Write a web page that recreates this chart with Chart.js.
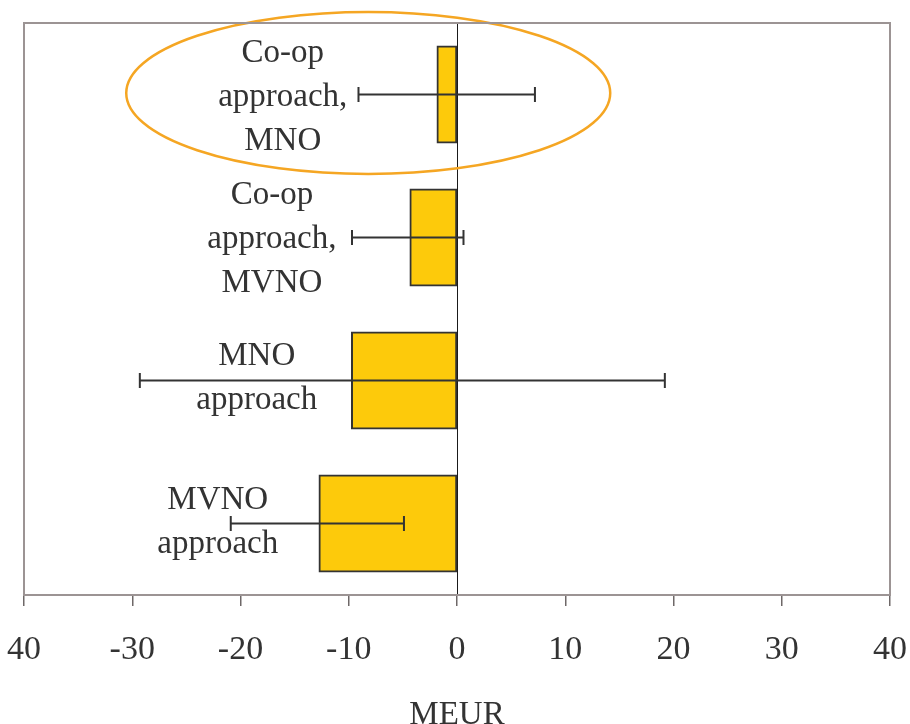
<!DOCTYPE html>
<html>
<head>
<meta charset="utf-8">
<script src="https://cdn.jsdelivr.net/npm/chart.js@4.4.1/dist/chart.umd.min.js"></script>
<style>
  html, body { margin: 0; padding: 0; background: #ffffff; }
  #wrap { width: 910px; height: 724px; position: relative; }
</style>
</head>
<body>
<div id="wrap"><canvas id="chart" width="910" height="724"></canvas></div>
<script>
// Scenario categories (top to bottom), each label split into lines
const categories = [
  ["Co-op", "approach,", "MNO"],
  ["Co-op", "approach,", "MVNO"],
  ["MNO", "approach"],
  ["MVNO", "approach"]
];
// Expected value per scenario, MEUR
const expectedValue = [-1.8, -4.3, -9.7, -12.7];
// Low / high ends of the uncertainty range, MEUR
const rangeLow  = [-9.1, -9.7, -29.3, -20.9];
const rangeHigh = [7.2, 0.6, 19.2, -4.9];
// Axis tick values and their printed labels
const tickValues = [-40, -30, -20, -10, 0, 10, 20, 30, 40];
const tickLabels = ["40", "-30", "-20", "-10", "0", "10", "20", "30", "40"];

const SERIF = "'Liberation Serif', 'Times New Roman', serif";
const INK = '#333333';
const FRAME = '#9c9494';

// Frame around the plot, zero line, error bars, in-plot labels, highlight ellipse
const decorations = {
  id: 'decorations',
  afterDatasetsDraw(chart, args, opts) {
    const { ctx, chartArea: a, scales: { x, y } } = chart;
    const meta = chart.getDatasetMeta(0);
    ctx.save();

    // zero reference line, pixel-snapped, running over the bar ends
    const x0 = Math.floor(x.getPixelForValue(0)) + 0.5;
    ctx.strokeStyle = '#1a1a1a';
    ctx.lineWidth = 1;
    ctx.beginPath();
    ctx.moveTo(x0, a.top);
    ctx.lineTo(x0, a.bottom);
    ctx.stroke();

    // error bars
    ctx.strokeStyle = INK;
    ctx.lineWidth = 2;
    meta.data.forEach((bar, i) => {
      const yc = bar.y;
      const xl = x.getPixelForValue(rangeLow[i]);
      const xh = x.getPixelForValue(rangeHigh[i]);
      ctx.beginPath();
      ctx.moveTo(xl, yc); ctx.lineTo(xh, yc);
      ctx.moveTo(xl, yc - 7.5); ctx.lineTo(xl, yc + 7.5);
      ctx.moveTo(xh, yc - 7.5); ctx.lineTo(xh, yc + 7.5);
      ctx.stroke();
    });

    // category labels inside the plot
    ctx.fillStyle = INK;
    ctx.font = '33px ' + SERIF;
    ctx.textAlign = 'center';
    ctx.textBaseline = 'middle';
    const lineGap = 44;
    categories.forEach((lines, i) => {
      const cx = x.getPixelForValue(opts.labelAt[i]);
      const cy = y.getPixelForValue(i) + opts.labelShift[i];
      const start = cy - (lines.length - 1) * lineGap / 2;
      lines.forEach((t, k) => ctx.fillText(t, cx, start + k * lineGap));
    });

    // highlight ellipse around the first scenario
    const ex = x.getPixelForValue(opts.ellipse.centerValue);
    const ey = y.getPixelForValue(0) + opts.ellipse.dy;
    ctx.strokeStyle = '#F5A623';
    ctx.lineWidth = 2.5;
    ctx.beginPath();
    ctx.ellipse(ex, ey, opts.ellipse.rx, opts.ellipse.ry, 0, 0, Math.PI * 2);
    ctx.stroke();

    // plot frame
    ctx.strokeStyle = FRAME;
    ctx.lineWidth = 2;
    ctx.strokeRect(a.left, a.top, a.right - a.left, a.bottom - a.top);
    ctx.restore();
  }
};

new Chart(document.getElementById('chart'), {
  type: 'bar',
  data: {
    labels: categories.map(l => l.join(' ')),
    datasets: [{
      data: expectedValue,
      backgroundColor: '#FDCA0B',
      borderColor: INK,
      borderWidth: 2,
      borderSkipped: false,
      inflateAmount: 1,
      barPercentage: 0.67,
      categoryPercentage: 1.0
    }]
  },
  options: {
    indexAxis: 'y',
    responsive: false,
    animation: false,
    layout: { padding: { left: 24, right: 20, top: 23, bottom: 0 } },
    plugins: {
      legend: { display: false },
      tooltip: { enabled: false },
      decorations: {
        labelAt: [-16.1, -17.1, -18.5, -22.1],
        labelShift: [3, 2, -2.5, -1],
        ellipse: { centerValue: -8.2, dy: -1.5, rx: 242, ry: 81 }
      }
    },
    scales: {
      x: {
        type: 'linear',
        min: -40, max: 40,
        afterBuildTicks: s => { s.ticks = tickValues.map(v => ({ value: v })); },
        afterFit: s => { s.height = 129; s.paddingLeft = 0; s.paddingRight = 0; },
        ticks: {
          autoSkip: false,
          maxRotation: 0,
          padding: 24,
          color: INK,
          font: { family: SERIF, size: 34 },
          callback: (v) => tickLabels[tickValues.indexOf(v)]
        },
        grid: {
          drawOnChartArea: false,
          drawTicks: true,
          tickLength: 11,
          color: '#6e6868',
          lineWidth: 1.5
        },
        border: { display: true, color: '#6e6868', width: 2 },
        title: {
          display: true,
          text: 'MEUR',
          color: INK,
          font: { family: SERIF, size: 33 },
          padding: { top: 0, bottom: -11 }
        }
      },
      y: {
        display: false,
        grid: { display: false }
      }
    }
  },
  plugins: [decorations]
});
</script>
</body>
</html>
